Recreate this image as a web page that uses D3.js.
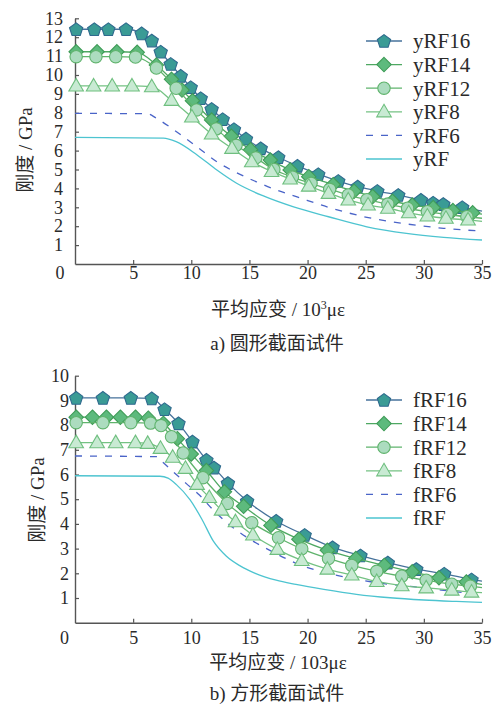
<!DOCTYPE html>
<html><head><meta charset="utf-8">
<script src="https://cdn.jsdelivr.net/npm/d3@7"></script>
<style>
html,body{margin:0;padding:0;background:#fff;}svg{display:block;}
.serif{font-family:"Liberation Serif","DejaVu Serif",serif;}
.cjk{font-family:"Noto Sans CJK SC","Noto Sans CJK JP",sans-serif;}
</style>
</head><body>
<svg id="chart" width="499" height="708"></svg>
<script>
// ---------- data ----------
const xTicks = [0,5,10,15,20,25,30,35];
const yTicksA = [1,2,3,4,5,6,7,8,9,10,11,12,13];
const yTicksB = [1,2,3,4,5,6,7,8,9,10];

const namesA = ["yRF16","yRF14","yRF12","yRF8","yRF6","yRF"];
const namesB = ["fRF16","fRF14","fRF12","fRF8","fRF6","fRF"];

const yRF16_x = [0.1,1.66,2.87,4.39,5.73,6.6,7.37,8.23,9.09,9.95,10.81,11.75,12.7,13.67,14.7,15.97,17.48,19.13,20.92,22.64,24.31,26.0,27.8,29.75,30.8,31.67,33.3,35];
const yRF16_y = [12.42,12.42,12.42,12.42,12.2,11.82,11.23,10.58,9.95,9.35,8.77,8.2,7.66,7.13,6.63,6.12,5.65,5.19,4.75,4.39,4.09,3.86,3.65,3.39,3.24,3.17,3.0,2.8];
const yRF14_x = [0.1,1.9,3.6,5.35,7.0,8.3,9.2,10.1,11.75,13.45,15.1,16.8,18.5,20.1,22.2,24.0,25.6,27.3,29.0,30.8,32.5,34.2,35];
const yRF14_y = [11.23,11.23,11.23,11.2,10.53,9.77,9.2,8.64,7.62,6.76,6.05,5.5,4.98,4.62,4.2,3.85,3.57,3.32,3.12,2.98,2.83,2.71,2.64];
const yRF12_x = [0.1,1.8,3.5,5.2,7.0,8.7,10.45,12.15,13.85,15.55,17.1,18.7,20.3,21.9,23.5,25.1,26.9,28.6,30.3,32.0,33.7,35];
const yRF12_y = [10.97,10.97,10.97,10.95,10.37,9.3,8.15,7.15,6.28,5.62,5.0,4.6,4.27,3.95,3.65,3.4,3.17,2.95,2.77,2.62,2.5,2.42];
const yRF8_x = [0.1,1.6,3.2,4.9,6.6,8.3,10.05,11.75,13.5,15.2,16.9,18.5,20.1,21.8,23.5,25.2,26.9,28.7,30.3,31.9,33.8,35];
const yRF8_y = [9.42,9.42,9.42,9.42,9.38,8.66,7.78,6.88,6.12,5.41,4.9,4.5,4.12,3.74,3.39,3.12,2.95,2.71,2.54,2.42,2.33,2.26];
const yRF6_x = [0,6.2,7.0,8.2,9.3,10.5,12.2,13.9,15.6,17.3,19.1,21.8,25.1,28.5,31.7,35];
const yRF6_y = [7.97,7.95,7.71,7.23,6.74,6.2,5.41,4.83,4.35,3.92,3.55,3.0,2.47,2.12,1.89,1.74];
const yRF_x = [0,7.6,8.7,10.5,12.2,13.9,16.2,18.8,21.8,25.1,28.5,31.7,35];
const yRF_y = [6.7,6.66,6.47,5.77,4.97,4.27,3.6,3.02,2.5,1.97,1.62,1.41,1.27];

const fRF16_x = [0.1,2.4,4.8,6.6,7.7,8.9,10.1,11.3,11.95,13.15,14.8,17.3,19.75,22.15,24.55,26.9,29.35,31.75,34.1,35];
const fRF16_y = [9.1,9.1,9.1,9.08,8.64,8.07,7.33,6.59,6.28,5.65,4.93,4.12,3.55,3.05,2.72,2.43,2.17,1.98,1.75,1.68];
const fRF14_x = [0.1,1.5,2.7,3.9,5.2,6.3,7.6,8.8,10.0,11.3,12.85,14.5,16.85,19.25,21.7,24.15,26.6,29.0,31.3,33.65,35];
const fRF14_y = [8.32,8.32,8.32,8.32,8.32,8.28,8.07,7.45,6.83,6.16,5.3,4.71,3.94,3.38,2.93,2.6,2.32,2.06,1.82,1.65,1.55];
const fRF12_x = [0.1,2.4,4.8,6.5,7.4,8.3,9.3,11.0,13.1,15.2,17.5,19.5,21.8,23.8,25.95,28.1,30.2,32.4,34.0,35];
const fRF12_y = [8.1,8.1,8.1,8.08,7.98,7.53,6.87,5.87,4.83,4.05,3.44,2.99,2.6,2.32,2.08,1.88,1.72,1.56,1.48,1.42];
const fRF8_x = [0.1,1.9,3.5,5.2,6.25,7.35,8.4,9.5,10.5,11.55,12.6,13.8,15.3,17.4,19.5,21.7,23.8,25.95,28.1,30.2,32.4,34.1,35];
const fRF8_y = [7.29,7.29,7.29,7.29,7.26,7.06,6.7,6.25,5.6,5.07,4.56,4.09,3.55,2.97,2.52,2.17,1.93,1.67,1.5,1.41,1.32,1.24,1.22];
const fRF6_x = [0,7.0,7.3,8.45,9.6,10.7,11.75,13.3,14.8,17.0,19.2,21.8,24.2,26.7,29.1,31.5,35];
const fRF6_y = [6.75,6.72,6.6,6.11,5.62,5.17,4.63,3.96,3.45,2.87,2.37,2.0,1.76,1.57,1.46,1.32,1.14];
const fRF_x = [0,7.3,8.0,8.7,9.9,10.9,11.9,13.0,14.2,15.5,17.3,19.0,21.4,24.2,27.1,30,32.8,35];
const fRF_y = [5.95,5.93,5.85,5.6,4.97,4.2,3.3,2.7,2.3,2.0,1.72,1.55,1.35,1.15,1.01,0.92,0.86,0.82];

// ---------- styles ----------
const styles = [
  {marker:"pentagon", line:"#46729b", fill:"#3a9b95", stroke:"#2f6a8e", dash:null},
  {marker:"diamond",  line:"#4ea862", fill:"#5dba7d", stroke:"#3f9c57", dash:null},
  {marker:"circle",   line:"#5fb36c", fill:"#acdcbf", stroke:"#5fb36c", dash:null},
  {marker:"triangle", line:"#74c283", fill:"#c8ead3", stroke:"#6fbf7f", dash:null},
  {marker:null,       line:"#4a64c8", fill:null, stroke:null, dash:"7,8"},
  {marker:null,       line:"#4dc4d0", fill:null, stroke:null, dash:null}
];

const TXT = "#2a2a2a";

function zipXY(xs, ys){ return xs.map((v,i)=>[v, ys[i]]); }

const panels = [
  { names:namesA, xs:[yRF16_x,yRF14_x,yRF12_x,yRF8_x,yRF6_x,yRF_x], ys:[yRF16_y,yRF14_y,yRF12_y,yRF8_y,yRF6_y,yRF_y],
    yMax:13, yTicks:yTicksA, top:18.3, bottom:264, yPad:12, xPad:2, zeroShift:-15.5,
    legendY:41, ylabX:25, ylabY:150, xtitleY:309, capY:343, sup:true, cap:"圆形截面试件", capPre:"a)" },
  { names:namesB, xs:[fRF16_x,fRF14_x,fRF12_x,fRF8_x,fRF6_x,fRF_x], ys:[fRF16_y,fRF14_y,fRF12_y,fRF8_y,fRF6_y,fRF_y],
    yMax:10, yTicks:yTicksB, top:375.7, bottom:622.7, yPad:6, xPad:9, zeroShift:-11,
    legendY:400, ylabX:37, ylabY:500, xtitleY:662, capY:693, sup:false, cap:"方形截面试件", capPre:"b)" }
];

const svg = d3.select("#chart");
const x = d3.scaleLinear().domain([0,35]).range([75,482]);

function markerPath(type){
  const p = d3.path();
  if(type==="pentagon"){
    const r=7;
    for(let k=0;k<5;k++){ const a=-Math.PI/2 + k*2*Math.PI/5; const px=r*Math.cos(a), py=r*Math.sin(a)+0.6; if(k===0)p.moveTo(px,py); else p.lineTo(px,py);} p.closePath();
  } else if(type==="diamond"){
    const r=7.2; p.moveTo(0,-r); p.lineTo(r,0); p.lineTo(0,r); p.lineTo(-r,0); p.closePath();
  } else if(type==="circle"){
    p.arc(0,0,6.2,0,2*Math.PI);
  } else if(type==="triangle"){
    const s=7; p.moveTo(0,-s-0.5); p.lineTo(s+0.3,s*0.72); p.lineTo(-s-0.3,s*0.72); p.closePath();
  }
  return p.toString();
}

panels.forEach(P=>{
  const y = d3.scaleLinear().domain([0,P.yMax]).range([P.bottom,P.top]);
  const g = svg.append("g");

  // axes
  const yAxis = d3.axisLeft(y).tickValues(P.yTicks).tickSize(-4).tickSizeOuter(0).tickPadding(P.yPad).tickFormat(d3.format("d"));
  const ya = g.append("g").attr("transform",`translate(${x(0)},0)`).call(yAxis);
  const xAxis = d3.axisBottom(x).tickValues(xTicks).tickSize(-4).tickSizeOuter(0).tickPadding(P.xPad).tickFormat(d3.format("d"));
  const xa = g.append("g").attr("transform",`translate(0,${P.bottom})`).call(xAxis);
  [ya,xa].forEach(a=>{
    a.attr("font-family",null).attr("font-size",null).attr("class","serif");
    a.select(".domain").attr("stroke","#555").attr("stroke-width",1.4);
    a.selectAll(".tick line").attr("stroke","#555").attr("stroke-width",1.2);
    a.selectAll(".tick text").attr("fill",TXT).attr("class","serif").style("font-size","18px");
  });
  xa.selectAll(".tick").filter(d=>d===0).select("text").attr("x",P.zeroShift);
  xa.selectAll(".tick").filter(d=>d===0).select("line").remove();

  const line = d3.line().x(d=>x(d[0])).y(d=>y(d[1])).curve(d3.curveMonotoneX);

  const order = [5,4,0,1,2,3];
  order.forEach(i=>{
    const st = styles[i];
    const pts = zipXY(P.xs[i], P.ys[i]);
    g.append("path").attr("d",line(pts)).attr("fill","none").attr("stroke",st.line)
      .attr("stroke-width",1.3).attr("stroke-dasharray",st.dash);
    if(st.marker){
      g.append("g").selectAll("path").data(pts.filter(d=>d[0]<35)).join("path")
        .attr("d",markerPath(st.marker))
        .attr("transform",d=>`translate(${x(d[0])},${y(d[1])})`)
        .attr("fill",st.fill).attr("stroke",st.stroke).attr("stroke-width",1.1);
    }
  });

  // legend
  const lg = g.append("g");
  P.names.forEach((nm,i)=>{
    const st = styles[i];
    const ly = P.legendY + i*23.6;
    lg.append("line").attr("x1",366).attr("x2",402).attr("y1",ly).attr("y2",ly)
      .attr("stroke",st.line).attr("stroke-width",1.3).attr("stroke-dasharray",st.dash);
    if(st.marker){
      lg.append("path").attr("d",markerPath(st.marker)).attr("transform",`translate(384,${ly})`)
        .attr("fill",st.fill).attr("stroke",st.stroke).attr("stroke-width",1.1);
    }
    lg.append("text").attr("x",413).attr("y",ly).attr("dy","0.35em").text(nm)
      .attr("fill",TXT).attr("class","serif").style("font-size","21px");
  });

  // y label
  const yl = g.append("text").attr("transform",`translate(${P.ylabX},${P.ylabY}) rotate(-90)`)
    .attr("text-anchor","middle").attr("dy","0.35em").attr("fill",TXT).style("font-size","19px");
  yl.append("tspan").attr("class","cjk").text("刚度");
  yl.append("tspan").attr("class","serif").text(" / GPa");

  // x title
  const xt = g.append("text").attr("x",278).attr("y",P.xtitleY).attr("text-anchor","middle")
    .attr("dy","0.35em").attr("fill",TXT).style("font-size","19px");
  xt.append("tspan").attr("class","cjk").text("平均应变");
  if(P.sup){
    xt.append("tspan").attr("class","serif").text(" / 10");
    xt.append("tspan").attr("class","serif").style("font-size","12px").attr("dy","-7").text("3");
    xt.append("tspan").attr("class","serif").attr("dy","7").text("με");
  } else {
    xt.append("tspan").attr("class","serif").text(" / 103με");
  }

  // caption
  const cp = g.append("text").attr("x",277).attr("y",P.capY).attr("text-anchor","middle")
    .attr("dy","0.35em").attr("fill",TXT).style("font-size","19px");
  cp.append("tspan").attr("class","serif").text(P.capPre + "  ");
  cp.append("tspan").attr("class","cjk").text(P.cap);
});
</script>
</body></html>
